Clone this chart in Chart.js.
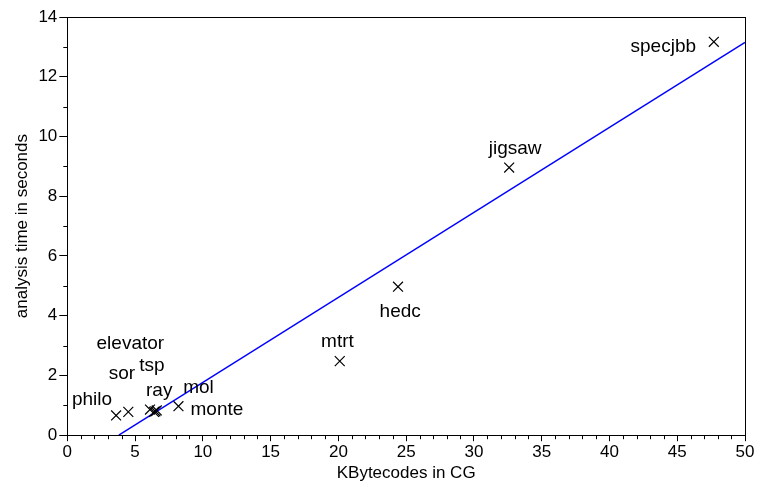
<!DOCTYPE html>
<html>
<head>
<meta charset="utf-8">
<script src="https://cdn.jsdelivr.net/npm/chart.js@4.4.0/dist/chart.umd.min.js"></script>
<style>
  html, body { margin: 0; padding: 0; background: #fff; }
  #wrap { width: 759px; height: 489px; }
</style>
</head>
<body>
<div id="wrap"><canvas id="scatterChart"></canvas></div>
<script>
// benchmark points (KBytecodes in CG vs analysis time)
const pointX = [3.6, 4.5, 6.1, 6.4, 6.6, 6.5, 8.2, 20.1, 24.4, 32.6, 47.7];
const pointY = [0.66, 0.78, 0.86, 0.78, 0.83, 0.8, 0.97, 2.48, 4.97, 8.96, 13.17];

// label text and where it sits (data units)
const labelNames = ["philo", "sor", "elevator", "tsp", "ray", "mol", "monte", "mtrt", "hedc", "jigsaw", "specjbb"];
const labelX = [1.82, 4.03, 4.65, 6.24, 6.78, 9.68, 11.04, 19.93, 24.56, 33.04, 43.97];
const labelY = [1.2, 2.04, 3.06, 2.32, 1.5, 1.59, 0.86, 3.12, 4.14, 9.6, 13.02];

// fitted line end points
const fitX = [3.8, 50];
const fitY = [0, 13.15];

const FONT = "'Liberation Sans', Arial, sans-serif";

// text labels next to the points
const labelPlugin = {
  id: "labels",
  afterDatasetsDraw(chart) {
    const ctx = chart.ctx;
    const xs = chart.scales.x;
    const ys = chart.scales.y;
    ctx.save();
    ctx.fillStyle = "#000";
    ctx.font = "19px " + FONT;
    ctx.textAlign = "center";
    ctx.textBaseline = "middle";
    labelNames.forEach((name, i) => {
      ctx.fillText(name, xs.getPixelForValue(labelX[i]), ys.getPixelForValue(labelY[i]));
    });
    ctx.restore();
  },
};

// frame round the plot and short minor ticks
const framePlugin = {
  id: "frame",
  afterDraw(chart) {
    const ctx = chart.ctx;
    const a = chart.chartArea;
    const xs = chart.scales.x;
    const ys = chart.scales.y;
    ctx.save();
    ctx.strokeStyle = "#000";
    ctx.lineWidth = 1;
    ctx.strokeRect(Math.round(a.left) + 0.5, Math.round(a.top) + 0.5,
      Math.round(a.right - a.left), Math.round(a.bottom - a.top));
    ctx.beginPath();
    for (let v = 0; v <= 50; v++) {
      if (v % 5 === 0) continue;
      const px = Math.round(xs.getPixelForValue(v)) + 0.5;
      ctx.moveTo(px, a.bottom);
      ctx.lineTo(px, a.bottom + 4);
    }
    for (let v = 0; v <= 14; v++) {
      if (v % 2 === 0) continue;
      const py = Math.round(ys.getPixelForValue(v)) + 0.5;
      ctx.moveTo(a.left, py);
      ctx.lineTo(a.left - 4, py);
    }
    ctx.stroke();
    ctx.restore();
  },
};

document.addEventListener("DOMContentLoaded", function () {
  const ctx = document.getElementById("scatterChart").getContext("2d");
  new Chart(ctx, {
    data: {
      datasets: [
        {
          type: "scatter",
          label: "benchmarks",
          data: pointX.map((x, i) => ({ x: x, y: pointY[i] })),
          pointStyle: "crossRot",
          pointRadius: 7,
          pointBorderWidth: 1.2,
          borderColor: "#000",
          backgroundColor: "#000",
        },
        {
          type: "line",
          label: "fit",
          data: fitX.map((x, i) => ({ x: x, y: fitY[i] })),
          borderColor: "#0000ff",
          borderWidth: 1.4,
          pointRadius: 0,
          fill: false,
        },
      ],
    },
    options: {
      responsive: true,
      maintainAspectRatio: false,
      animation: false,
      layout: { padding: { top: 17, right: 14, left: 12, bottom: 5 } },
      plugins: {
        legend: { display: false },
        tooltip: { enabled: false },
      },
      scales: {
        x: {
          type: "linear",
          min: 0,
          max: 50,
          border: { display: true, color: "#000", width: 1 },
          grid: {
            drawOnChartArea: false,
            tickLength: 6,
            color: "#000",
            tickColor: "#000",
          },
          ticks: {
            stepSize: 5,
            color: "#000",
            font: { family: FONT, size: 17 },
            padding: 1,
            maxRotation: 0,
          },
          title: {
            display: true,
            text: "KBytecodes in CG",
            color: "#000",
            font: { family: FONT, size: 17 },
            padding: { top: 0, bottom: 0 },
          },
        },
        y: {
          type: "linear",
          min: 0,
          max: 14,
          border: { display: true, color: "#000", width: 1 },
          grid: {
            drawOnChartArea: false,
            tickLength: 8,
            color: "#000",
            tickColor: "#000",
          },
          ticks: {
            stepSize: 2,
            color: "#000",
            font: { family: FONT, size: 17 },
            padding: 2,
          },
          title: {
            display: true,
            text: "analysis time in seconds",
            color: "#000",
            font: { family: FONT, size: 17 },
            padding: { top: 0, bottom: 4 },
          },
        },
      },
    },
    plugins: [labelPlugin, framePlugin],
  });
});
</script>
</body>
</html>
